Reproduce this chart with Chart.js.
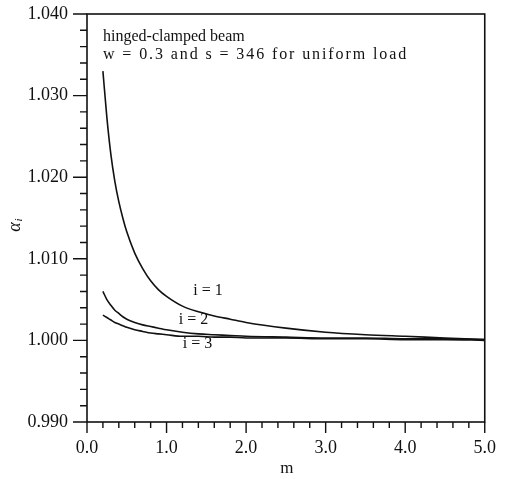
<!DOCTYPE html>
<html>
<head>
<meta charset="utf-8">
<script src="https://cdn.jsdelivr.net/npm/chart.js@4.4.1/dist/chart.umd.min.js"></script>
<style>
  html, body { margin: 0; padding: 0; background: #fff; }
  #wrap { width: 511px; height: 479px; }
</style>
</head>
<body>
<div id="wrap"><canvas id="grafico" width="511" height="479"></canvas></div>
<script>
// valores
const mVals = [0.2, 0.25, 0.3, 0.35, 0.4, 0.45, 0.5, 0.6, 0.7, 0.8, 0.9, 1.0, 1.2, 1.4, 1.6, 1.8, 2.0, 2.5, 3.0, 3.5, 4.0, 4.5, 5.0];
const alfa1 = [1.0330, 1.0273, 1.0228, 1.0195, 1.0170, 1.0150, 1.0133, 1.0107, 1.0088, 1.0073, 1.0062, 1.0054, 1.0042, 1.0035, 1.0030, 1.0026, 1.0022, 1.0015, 1.0010, 1.0007, 1.0005, 1.0003, 1.0001];
const alfa2 = [1.0060, 1.0050, 1.0043, 1.0037, 1.0033, 1.0029, 1.0026, 1.0022, 1.0019, 1.0017, 1.0015, 1.0013, 1.0010, 1.0008, 1.0007, 1.0006, 1.0005, 1.0004, 1.0003, 1.0003, 1.0002, 1.0002, 1.0001];
const alfa3 = [1.0031, 1.0028, 1.0025, 1.0022, 1.0020, 1.0018, 1.0016, 1.0013, 1.0011, 1.0009, 1.0008, 1.0007, 1.0005, 1.0005, 1.0004, 1.0004, 1.0003, 1.0003, 1.0002, 1.0002, 1.0001, 1.0001, 1.0000];
const etiquetas = ['i = 1', 'i = 2', 'i = 3'];
const posEtiquetas = [[1.52, 1.00605], [1.34, 1.00247], [1.39, 0.99963]];
const ticksX = [0, 1, 2, 3, 4, 5];
const ticksY = [0.99, 1.00, 1.01, 1.02, 1.03, 1.04];
const textoNota = ['hinged-clamped beam', 'w = 0.3 and s = 346 for uniform load'];

const FUENTE = '"Liberation Serif", "DejaVu Serif", serif';
const NEGRO = '#111';

function serie(ys) {
  return mVals.map((m, k) => ({ x: m, y: ys[k] }));
}

// ejes con marcas, marco y textos
const marcosPlugin = {
  id: 'marcos',
  afterDraw(chart) {
    const { ctx, chartArea: a, scales } = chart;
    const sx = scales.x, sy = scales.y;
    ctx.save();
    ctx.strokeStyle = NEGRO;
    ctx.lineWidth = 1.6;
    ctx.strokeRect(a.left, a.top, a.right - a.left, a.bottom - a.top);

    ctx.lineWidth = 1.4;
    ctx.beginPath();
    for (let k = 0; k <= 25; k++) {
      const x = sx.getPixelForValue(k * 0.2);
      const largo = k % 5 === 0 ? 11 : 6;
      ctx.moveTo(x, a.bottom);
      ctx.lineTo(x, a.bottom + largo);
    }
    for (let k = 0; k <= 25; k++) {
      const y = sy.getPixelForValue(0.99 + k * 0.002);
      const largo = k % 5 === 0 ? 14 : 7;
      ctx.moveTo(a.left, y);
      ctx.lineTo(a.left - largo, y);
    }
    ctx.stroke();

    ctx.fillStyle = NEGRO;
    ctx.font = '16px ' + FUENTE;
    ctx.textBaseline = 'alphabetic';
    ctx.textAlign = 'left';
    ctx.fillText(textoNota[0], a.left + 16, 41);
    ctx.save();
    ctx.letterSpacing = '1.9px';
    ctx.fillText(textoNota[1], a.left + 16, 59);
    ctx.restore();

    ctx.textAlign = 'center';
    ctx.textBaseline = 'middle';
    ctx.font = '16px ' + FUENTE;
    etiquetas.forEach((t, k) => {
      ctx.fillText(t, sx.getPixelForValue(posEtiquetas[k][0]), sy.getPixelForValue(posEtiquetas[k][1]));
    });

    ctx.font = '17px ' + FUENTE;
    ctx.fillText('m', (a.left + a.right) / 2 + 1, 469);

    ctx.translate(15, 227);
    ctx.rotate(-Math.PI / 2);
    ctx.font = 'italic 18px ' + FUENTE;
    ctx.textAlign = 'center';
    ctx.fillText('\u03b1', 0, 0);
    ctx.font = 'italic 11px ' + FUENTE;
    ctx.fillText('i', 7, 4);
    ctx.restore();
  }
};

const ctx = document.getElementById('grafico').getContext('2d');
new Chart(ctx, {
  type: 'line',
  data: {
    datasets: [
      { label: 'i=1', data: serie(alfa1) },
      { label: 'i=2', data: serie(alfa2) },
      { label: 'i=3', data: serie(alfa3) }
    ]
  },
  options: {
    responsive: false,
    animation: false,
    devicePixelRatio: 1,
    layout: { padding: { top: 14, right: 25, left: 0, bottom: 0 } },
    elements: {
      line: { borderColor: NEGRO, borderWidth: 1.6, cubicInterpolationMode: 'monotone', fill: false },
      point: { radius: 0 }
    },
    plugins: { legend: { display: false }, tooltip: { enabled: false } },
    scales: {
      x: {
        type: 'linear',
        min: 0, max: 5,
        afterFit: s => { s.height = 57; },
        afterBuildTicks: s => { s.ticks = ticksX.map(v => ({ value: v })); },
        grid: { display: false, drawTicks: false },
        border: { display: false },
        ticks: {
          padding: 15,
          color: NEGRO,
          font: { family: FUENTE, size: 18 },
          maxRotation: 0,
          autoSkip: false,
          callback: v => v.toFixed(1)
        }
      },
      y: {
        type: 'linear',
        min: 0.99, max: 1.04,
        afterFit: s => { s.width = 87; s.paddingTop = 0; s.paddingBottom = 0; },
        afterBuildTicks: s => { s.ticks = ticksY.map(v => ({ value: v })); },
        grid: { display: false, drawTicks: false },
        border: { display: false },
        ticks: {
          padding: 19,
          color: NEGRO,
          font: { family: FUENTE, size: 18 },
          autoSkip: false,
          callback: v => v.toFixed(3)
        }
      }
    }
  },
  plugins: [marcosPlugin]
});
</script>
</body>
</html>
